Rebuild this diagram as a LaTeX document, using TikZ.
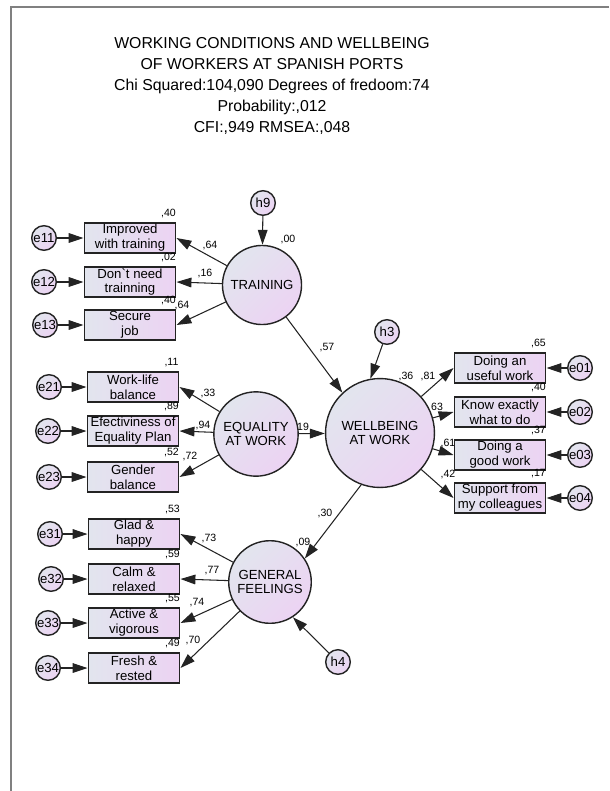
\documentclass[tikz,border=0pt]{standalone}
\usepackage{fontspec}
\setmainfont{Liberation Sans}
\usepackage{xcolor}
\usepackage{tikz}
\usetikzlibrary{arrows.meta,positioning,calc}
\definecolor{fillL}{RGB}{226,229,238}
\definecolor{fillR}{RGB}{236,211,243}
\definecolor{edge}{RGB}{35,35,35}
\definecolor{frame}{RGB}{128,128,128}

\begin{document}
\begin{tikzpicture}[x=0.02cm, y=-0.02cm, >={Triangle[length=8.5pt,width=5.5pt]},
  obs/.style={rectangle, draw=edge, line width=0.9pt, left color=fillL,
              right color=fillR, minimum width=52pt, minimum height=17pt,
              inner sep=0pt, align=center, font=\fontsize{7.5}{8.5}\selectfont},
  latent/.style={circle, draw=edge, line width=0.8pt, left color=fillL,
                 right color=fillR, shading angle=45, inner sep=0pt,
                 align=center, font=\fontsize{7.5}{8.3}\selectfont},
  err/.style={circle, draw=edge, line width=0.8pt, left color=fillL,
              right color=fillR, shading angle=45, minimum size=14pt,
              inner sep=0pt, font=\fontsize{7.5}{8}\selectfont},
  coef/.style={inner sep=0pt, font=\fontsize{6}{6}\selectfont},
  link/.style={->, line width=0.6pt, draw=edge}]

  \useasboundingbox (0,0) rectangle (609,791);
  \draw[frame, line width=1.2pt] (609,7) -- (11,7) -- (11,791);

  % Title
  \node[align=center, font=\fontsize{9}{11.9}\selectfont] (title) at (272,86)
    {WORKING CONDITIONS AND WELLBEING\\OF WORKERS AT SPANISH PORTS\\
     Chi Squared:104,090 Degrees of fredoom:74\\Probability:,012\\
     CFI:,949 RMSEA:,048};

  % Path coefficients
  \node[coef] (c11) at (210,245) {,64};
  \node[coef] (c12) at (205,273) {,16};
  \node[coef] (c13) at (182,305) {,64};
  \node[coef] (c21) at (208,393) {,33};
  \node[coef] (c22) at (203,425) {,94};
  \node[coef] (c23) at (190,456) {,72};
  \node[coef] (c31) at (209,538) {,73};
  \node[coef] (c32) at (212,571) {,77};
  \node[coef] (c33) at (197,603) {,74};
  \node[coef] (c34) at (193,640) {,70};
  \node[coef] (c01) at (428,376) {,81};
  \node[coef] (c02) at (437,407) {63};
  \node[coef] (c03) at (448,443) {,61};
  \node[coef] (c04) at (448,474) {,42};
  \node[coef] (cTW) at (327,348) {,57};
  \node[coef] (cEW) at (303,427) {19};
  \node[coef] (cWG) at (325,513) {,30};

  % Latent variables
  \node[latent, minimum size=45pt] (TR) at (262,285) {TRAINING};
  \node[latent, minimum size=48pt] (EQ) at (256,434) {EQUALITY\\AT WORK};
  \node[latent, minimum size=62pt] (WB) at (380,433) {WELLBEING\\AT WORK};
  \node[latent, minimum size=47pt] (GF) at (270,582) {GENERAL\\FEELINGS};
  \node[coef] (rTR) at (288,239) {,00};
  \node[coef] (rWB) at (406,376) {,36};
  \node[coef] (rGF) at (303,542) {,09};

  % Disturbances
  \node[err] (h9) at (263,203) {h9};
  \node[err] (h3) at (387,332) {h3};
  \node[err] (h4) at (338,662) {h4};

  % Indicators
  \node[obs] (b11) at (130,238) {Improved\\with training};
  \node[obs] (b12) at (130,282) {Don\textasciigrave t need\\trainning};
  \node[obs] (b13) at (130,325) {Secure\\job};
  \node[obs] (b21) at (133,387) {Work-life\\balance};
  \node[obs] (b22) at (133,431) {Efectiviness of\\Equality Plan};
  \node[obs] (b23) at (133,477) {Gender\\balance};
  \node[obs] (b31) at (134,534) {Glad \&\\happy};
  \node[obs] (b32) at (134,579) {Calm \&\\relaxed};
  \node[obs] (b33) at (134,623) {Active \&\\vigorous};
  \node[obs] (b34) at (134,668) {Fresh \&\\rested};
  \node[obs] (b01) at (500,368) {Doing an\\useful work};
  \node[obs] (b02) at (500,412) {Know exactly\\what to do};
  \node[obs] (b03) at (500,455) {Doing a\\good work};
  \node[obs] (b04) at (500,498) {Support from\\my colleagues};

  % Squared multiple correlations
  \node[coef] (r11) at ([shift={(-8,-9)}]b11.north east) {,40};
  \node[coef] (r12) at ([shift={(-8,-9)}]b12.north east) {,02};
  \node[coef] (r13) at ([shift={(-8,-9)}]b13.north east) {,40};
  \node[coef] (r21) at ([shift={(-8,-9)}]b21.north east) {,11};
  \node[coef] (r22) at ([shift={(-8,-9)}]b22.north east) {,89};
  \node[coef] (r23) at ([shift={(-8,-9)}]b23.north east) {,52};
  \node[coef] (r31) at ([shift={(-8,-9)}]b31.north east) {,53};
  \node[coef] (r32) at ([shift={(-8,-9)}]b32.north east) {,59};
  \node[coef] (r33) at ([shift={(-8,-9)}]b33.north east) {,55};
  \node[coef] (r34) at ([shift={(-8,-9)}]b34.north east) {,49};
  \node[coef] (r01) at ([shift={(-8,-9)}]b01.north east) {,65};
  \node[coef] (r02) at ([shift={(-8,-9)}]b02.north east) {,40};
  \node[coef] (r03) at ([shift={(-8,-9)}]b03.north east) {,37};
  \node[coef] (r04) at ([shift={(-8,-9)}]b04.north east) {,17};

  % Errors
  \node[err] (e11) at (44,238) {e11};
  \node[err] (e12) at (44,282) {e12};
  \node[err] (e13) at (45,325) {e13};
  \node[err] (e21) at (49,387) {e21};
  \node[err] (e22) at (48,431) {e22};
  \node[err] (e23) at (49,477) {e23};
  \node[err] (e31) at (50,534) {e31};
  \node[err] (e32) at (51,579) {e32};
  \node[err] (e33) at (48,623) {e33};
  \node[err] (e34) at (48,668) {e34};
  \node[err] (e01) at (580,368) {e01};
  \node[err] (e02) at (580,412) {e02};
  \node[err] (e03) at (580,455) {e03};
  \node[err] (e04) at (580,498) {e04};

  % Structural paths
  \draw[link] (h9) -- (TR);
  \draw[link] (h3) -- (WB.100);
  \draw[link] (h4) -- (GF.-57);
  \draw[link] (TR.-53) -- (WB.133);
  \draw[link] (EQ) -- (WB);
  \draw[link] (WB.250) -- (GF.34);

  % Loadings
  \draw[link] (TR) -- (b11.east);
  \draw[link] (TR) -- (b12.east);
  \draw[link] (TR) -- (b13.east);
  \draw[link] (EQ) -- (b21.east);
  \draw[link] (EQ) -- (b22.east);
  \draw[link] (EQ) -- (b23.east);
  \draw[link] (GF) -- (b31.east);
  \draw[link] (GF) -- (b32.east);
  \draw[link] (GF) -- (b33.east);
  \draw[link] (GF) -- (b34.east);
  \draw[link] (WB) -- (b01.west);
  \draw[link] (WB) -- (b02.west);
  \draw[link] (WB) -- (b03.west);
  \draw[link] (WB) -- (b04.west);

  % Error terms
  \draw[link] (e11) -- (b11);
  \draw[link] (e12) -- (b12);
  \draw[link] (e13) -- (b13);
  \draw[link] (e21) -- (b21);
  \draw[link] (e22) -- (b22);
  \draw[link] (e23) -- (b23);
  \draw[link] (e31) -- (b31);
  \draw[link] (e32) -- (b32);
  \draw[link] (e33) -- (b33);
  \draw[link] (e34) -- (b34);
  \draw[link] (e01) -- (b01);
  \draw[link] (e02) -- (b02);
  \draw[link] (e03) -- (b03);
  \draw[link] (e04) -- (b04);
\end{tikzpicture}
\end{document}
